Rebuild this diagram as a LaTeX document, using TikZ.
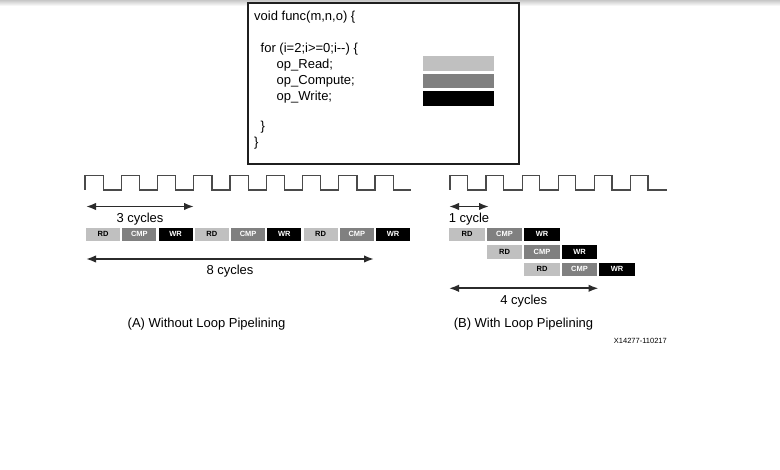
\documentclass[tikz,border=0pt]{standalone}
\usepackage{fontspec}
\setmainfont{Liberation Sans}
\usetikzlibrary{arrows.meta,positioning}
\definecolor{rdgray}{HTML}{C0C0C0}
\definecolor{cmpgray}{HTML}{808080}
\definecolor{wrblack}{HTML}{000000}
\definecolor{clockgray}{HTML}{4A4A4A}
\definecolor{inkgray}{HTML}{2B2B2B}
\tikzset{
  codeline/.style={anchor=base west, inner sep=0pt, font=\fontsize{13}{16}\selectfont},
  legendbar/.style={rectangle, minimum width=71pt, minimum height=14.5pt, inner sep=0pt},
  opbox/.style={
    rectangle, minimum width=34pt, minimum height=13.5pt, inner sep=0pt,
    font=\fontsize{7.5}{8}\selectfont\bfseries
  },
  rdbox/.style={opbox, fill=rdgray, text=black},
  cmpbox/.style={opbox, fill=cmpgray, text=white},
  wrbox/.style={opbox, fill=wrblack, text=white},
  clockline/.style={draw=clockgray, line width=1.3pt},
  spanarrow/.style={{Latex[length=10pt,width=7.5pt]}-{Latex[length=10pt,width=7.5pt]}, line width=1.7pt, color=inkgray},
  spanlabel/.style={font=\fontsize{13}{16}\selectfont, text=black, inner sep=1pt, below=4.5pt},
  caption/.style={font=\fontsize{13}{16}\selectfont},
}

\begin{document}
\begin{tikzpicture}[x=1pt, y=-1pt]
  \useasboundingbox (0,0) rectangle (780,470);
  \shade[top color=black!22, bottom color=white] (0,0) rectangle (780,6);

  % code listing
  \node[draw=black!88, line width=2pt, fill=white, anchor=north west, inner sep=0pt,
        minimum width=271pt, minimum height=161pt] (code) at (247,2) {};
  \node[codeline] (fline) at (254,20.5) {void func(m,n,o) \{};
  \node[codeline] (loop) at (260.5,52.5) {for (i=2;i>=0;i-\kern0pt-) \{};
  \node[codeline] (opread) at (276.5,68.5) {op\_Read;};
  \node[codeline] (opcomp) at (276.5,84.5) {op\_Compute;};
  \node[codeline] (opwrite) at (276.5,100.5) {op\_Write;};
  \node[codeline] (loopend) at (260.5,131) {\}};
  \node[codeline] (fend) at (254,147) {\}};

  \node[legendbar, fill=rdgray] (rdbar) at (458.5,63.3) {};
  \node[legendbar, fill=cmpgray] (cmpbar) at (458.5,81.2) {};
  \node[legendbar, fill=wrblack] (wrbar) at (458.5,98.4) {};

  % (A) without pipelining
  \draw[clockline] (85,190) foreach \k in {1,...,9} { -- ++(0,-14.5) -- ++(18.2,0) -- ++(0,14.5) -- ++(18.05,0) };
  \foreach \sty/\txt [count=\i from 0] in {rdbox/RD,cmpbox/CMP,wrbox/WR,rdbox/RD,cmpbox/CMP,wrbox/WR,rdbox/RD,cmpbox/CMP,wrbox/WR}
    \node[\sty] (a\i) at ({103.1+36.25*\i},234.3) {\txt};

  \coordinate (athreel) at (86,206.5);
  \coordinate (athreer) at (194,206.5);
  \coordinate (aeightl) at (86,259);
  \coordinate (aeightr) at (374,259);
  \draw[spanarrow] (athreel) -- node[spanlabel]{3 cycles} (athreer);
  \draw[spanarrow] (aeightl) -- node[spanlabel]{8 cycles} (aeightr);

  % (B) with pipelining
  \draw[clockline] (450,190) foreach \k in {1,...,6} { -- ++(0,-14.5) -- ++(17.5,0) -- ++(0,14.5) -- ++(18.6,0) };
  \foreach \r in {0,1,2}
    \foreach \sty/\txt [count=\j from 0] in {rdbox/RD,cmpbox/CMP,wrbox/WR}
      \node[\sty, minimum width=35.5pt] (b\r\j) at ({467+37.5*(\r+\j)},{234.3+17.5*\r}) {\txt};

  \coordinate (bonel) at (449,206.5);
  \coordinate (boner) at (489,206.5);
  \coordinate (bfourl) at (449,288.3);
  \coordinate (bfourr) at (598.5,288.3);
  \draw[spanarrow] (bonel) -- node[spanlabel]{1 cycle} (boner);
  \draw[spanarrow] (bfourl) -- node[spanlabel]{4 cycles} (bfourr);

  \node[caption] (capta) at (206.5,324) {(A) Without Loop Pipelining};
  \node[caption] (captb) at (523.5,324) {(B) With Loop Pipelining};
  \node[anchor=east, inner sep=0pt, font=\fontsize{7.5}{9}\selectfont] (docid) at (667,340.5) {X14277-110217};
\end{tikzpicture}
\end{document}
